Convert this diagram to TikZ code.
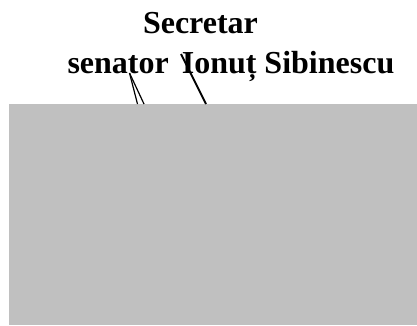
\documentclass[tikz,border=0pt]{standalone}
\usepackage{fontspec}
\setmainfont{Liberation Serif}
\definecolor{silverbox}{HTML}{C0C0C0}
\begin{document}
\begin{tikzpicture}[x=0.75pt,y=-0.75pt,
  txt/.style={inner sep=0pt,outer sep=0pt,font=\fontsize{24}{28}\selectfont\bfseries},
  panel/.style={fill=silverbox,draw=none,inner sep=0pt,outer sep=0pt,minimum width=306pt,minimum height=165.75pt},
  thinline/.style={draw=black,line width=0.9pt},
  thickline/.style={draw=black,line width=1.5pt}]
\useasboundingbox (0,0) rectangle (417,325);
\node[txt,anchor=base west] (sec) at (143,33) {Secretar};
\node[txt,anchor=base west] (name) at (67.5,73.5) {senator\kern9.75pt Ionuț Sibinescu};
\node[panel,anchor=north west] (box) at (9,104) {};
\coordinate (t1) at (129.5,73);
\coordinate (b1) at (137.5,104);
\coordinate (b2) at (144,104);
\coordinate (t2) at (181,54);
\coordinate (b3) at (206,104);
\draw[thinline] (t1) -- (b1);
\draw[thinline] (t1) -- (b2);
\draw[thickline] (t2) -- (b3);
\end{tikzpicture}
\end{document}
